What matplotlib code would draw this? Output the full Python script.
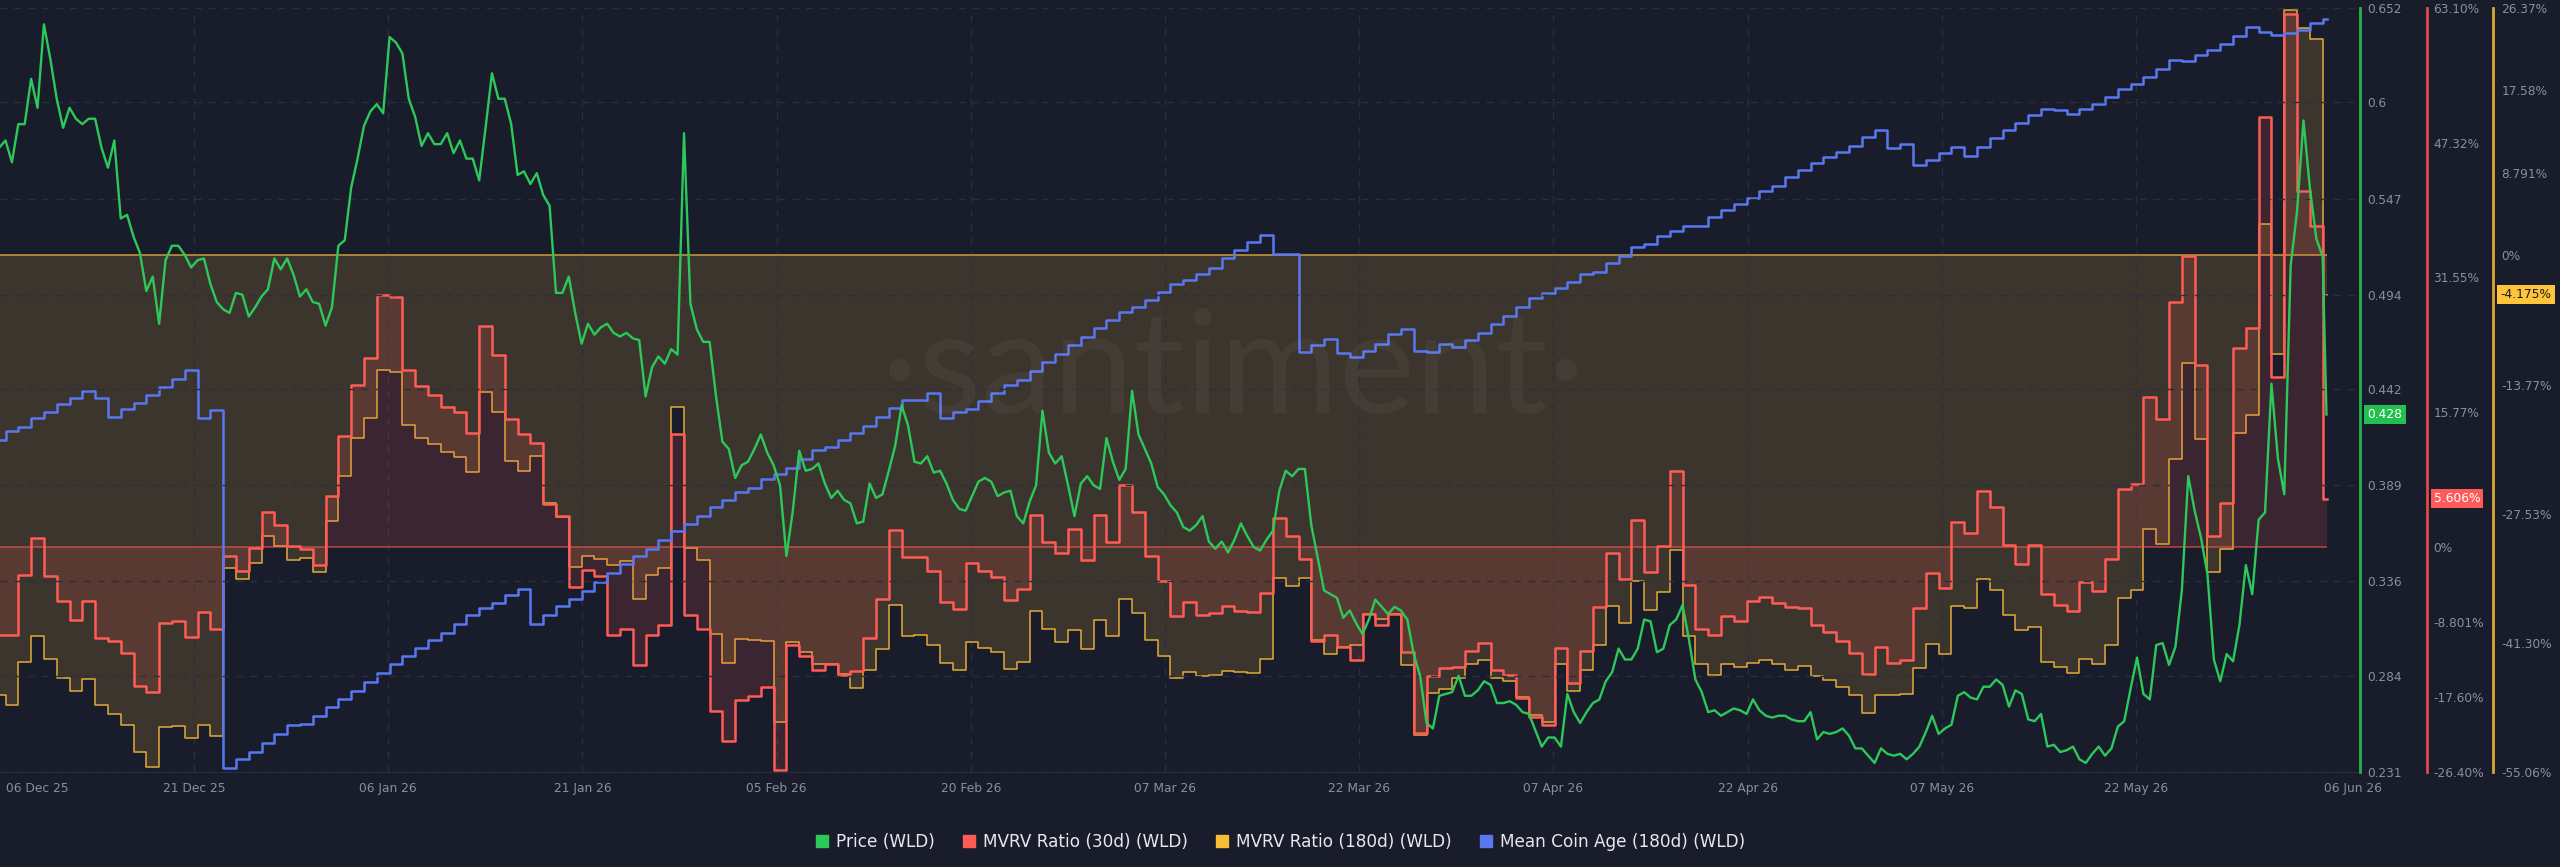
import numpy as np
import matplotlib
matplotlib.use("Agg")
import matplotlib.pyplot as plt
import matplotlib.transforms as mtransforms
from matplotlib.lines import Line2D

plt.rcParams['font.family'] = ['DejaVu Sans']

# ---------------- data ----------------
# day 0 = 06 Dec 2025; daily values start at day -1 (05 Dec 2025)
first_day = -1
end_day = 181.3  # last (partial) day ends here

mvrv30 = [
    -10.3, -10.3, -3.3, 1.0, -3.4, -6.4, -8.6, -6.4, -10.7, -11.0, -12.5, -16.3, -17.0, -9.0, -8.7, -10.6,
    -7.7, -9.6, -1.1, -2.9, -0.2, 4.1, 2.5, 0.1, -0.3, -2.2, 5.9, 13.0, 18.9, 22.1, 29.5, 29.3,
    20.7, 18.8, 17.8, 16.4, 15.8, 13.3, 25.8, 22.5, 15.0, 13.2, 12.1, 5.0, 3.6, -4.7, -2.7, -3.4,
    -10.3, -9.6, -13.9, -10.4, -9.2, 13.2, -8.0, -9.6, -19.2, -22.8, -18.0, -17.5, -16.4, -26.2, -11.5, -12.8,
    -14.5, -13.8, -15.0, -14.6, -10.7, -6.1, 1.9, -1.2, -1.2, -2.9, -6.5, -7.3, -1.9, -2.9, -3.6, -6.2,
    -5.0, 3.7, 0.6, -0.8, 2.1, -1.6, 3.7, 0.6, 7.2, 4.1, -1.1, -4.0, -8.1, -6.5, -8.0, -7.8,
    -6.9, -7.5, -7.7, -5.4, 3.4, 1.3, -1.4, -11.0, -10.3, -11.8, -13.3, -7.9, -9.2, -7.9, -12.3, -21.8,
    -15.1, -14.2, -14.1, -12.2, -11.3, -14.5, -15.0, -17.7, -19.9, -20.9, -11.9, -16.0, -12.2, -7.1, -0.8, -3.8,
    3.1, -3.0, 0.1, 8.9, -4.5, -9.6, -10.4, -8.1, -8.7, -6.4, -5.9, -6.6, -7.1, -7.2, -9.2, -10.0,
    -11.0, -12.5, -14.9, -11.7, -13.6, -13.3, -7.2, -3.1, -4.9, 2.9, 1.6, 6.5, 4.6, 0.2, -2.0, 0.2,
    -5.5, -6.8, -7.5, -4.1, -5.2, -1.4, 6.8, 7.3, 17.5, 14.9, 28.7, 34.0, 21.3, 1.3, 5.1, 23.3,
    25.6, 50.3, 19.9, 62.4, 41.7, 37.6, 5.606,
]

mvrv180 = [
    -46.9, -47.9, -43.3, -40.6, -43.0, -45.0, -46.4, -45.1, -47.9, -48.9, -50.0, -52.9, -54.5, -50.3, -50.2, -51.4,
    -50.1, -51.2, -33.3, -34.5, -32.8, -29.9, -31.0, -32.5, -32.3, -33.7, -28.3, -23.5, -19.5, -17.3, -12.2, -12.4,
    -18.1, -19.5, -20.1, -20.9, -21.5, -23.1, -14.6, -16.7, -21.9, -23.0, -21.4, -26.4, -27.9, -33.2, -32.0, -32.4,
    -33.0, -32.6, -36.6, -34.1, -33.3, -16.2, -31.2, -32.5, -40.3, -43.4, -40.9, -41.0, -41.1, -49.7, -41.2, -42.3,
    -43.5, -43.5, -44.6, -46.1, -44.2, -41.9, -37.3, -40.6, -40.5, -41.5, -43.4, -44.2, -41.2, -41.8, -42.3, -44.1,
    -43.3, -37.9, -39.8, -41.2, -39.9, -42.0, -38.9, -40.6, -36.6, -38.1, -41.0, -42.7, -45.0, -44.4, -44.8, -44.7,
    -44.3, -44.4, -44.5, -43.0, -34.4, -35.2, -34.4, -41.0, -42.5, -41.7, -41.5, -38.2, -38.8, -38.2, -43.7, -51.1,
    -46.6, -46.2, -45.0, -43.6, -43.1, -45.0, -45.4, -47.1, -49.0, -49.7, -43.6, -46.4, -44.2, -41.5, -37.4, -39.2,
    -34.7, -37.8, -35.9, -31.4, -40.6, -43.6, -44.7, -43.5, -43.9, -43.4, -43.1, -43.5, -44.2, -43.8, -44.8, -45.3,
    -46.0, -46.9, -48.8, -46.9, -46.9, -46.7, -44.0, -41.4, -42.5, -37.4, -37.6, -34.5, -35.7, -38.3, -39.9, -39.6,
    -43.3, -43.9, -44.5, -43.0, -43.5, -41.5, -36.5, -35.7, -29.2, -30.8, -21.7, -11.5, -19.6, -33.7, -31.3, -18.9,
    -17.0, 3.4, -10.5, 26.2, 24.2, 23.1, -4.175,
]

coin_age = [
    66.1, 66.8, 67.1, 67.8, 68.3, 68.9, 69.4, 69.9, 69.4, 67.9, 68.5, 69.0, 69.6, 70.2, 70.9, 71.6,
    67.8, 68.4, 40.3, 41.0, 41.6, 42.3, 43.0, 43.7, 43.8, 44.4, 45.1, 45.7, 46.4, 47.1, 47.8, 48.5,
    49.1, 49.7, 50.4, 50.9, 51.6, 52.3, 52.9, 53.3, 53.9, 54.4, 51.6, 52.3, 53.0, 53.6, 54.2, 54.9,
    55.6, 56.3, 57.0, 57.5, 58.2, 58.9, 59.5, 60.1, 60.8, 61.4, 62.0, 62.3, 63.0, 63.4, 63.9, 64.6,
    65.3, 65.5, 66.1, 66.6, 67.2, 67.9, 68.6, 69.2, 69.2, 69.8, 67.8, 68.3, 68.5, 69.1, 69.8, 70.4,
    70.8, 71.5, 72.2, 72.8, 73.5, 74.2, 74.9, 75.5, 76.1, 76.5, 77.1, 77.7, 78.3, 78.6, 79.1, 79.6,
    80.4, 81.0, 81.6, 82.2, 80.7, 80.7, 73.0, 73.5, 74.0, 72.9, 72.6, 73.1, 73.6, 74.4, 74.8, 73.1,
    73.0, 73.6, 73.4, 73.9, 74.5, 75.2, 75.8, 76.5, 77.2, 77.6, 78.0, 78.5, 79.1, 79.3, 80.0, 80.5,
    81.2, 81.5, 82.1, 82.5, 82.9, 82.9, 83.6, 84.1, 84.6, 85.1, 85.6, 86.0, 86.7, 87.3, 87.8, 88.3,
    88.7, 89.2, 89.9, 90.4, 89.0, 89.3, 87.7, 88.1, 88.6, 89.1, 88.4, 89.1, 89.8, 90.4, 91.0, 91.6,
    92.1, 92.0, 91.7, 92.1, 92.5, 93.0, 93.6, 94.0, 94.6, 95.2, 95.9, 95.8, 96.3, 96.7, 97.2, 97.8,
    98.5, 98.1, 97.9, 98.0, 98.3, 98.8, 99.1,
]

# price every 12 h, starting at day -0.5
price_start = -0.5
price = [
    0.575, 0.579, 0.567, 0.588, 0.588, 0.613, 0.597, 0.643, 0.624, 0.602, 0.586, 0.597, 0.591, 0.588, 0.591, 0.591,
    0.575, 0.564, 0.579, 0.536, 0.538, 0.526, 0.517, 0.496, 0.504, 0.478, 0.513, 0.521, 0.521, 0.516, 0.509, 0.513,
    0.514, 0.500, 0.490, 0.486, 0.484, 0.495, 0.494, 0.482, 0.487, 0.493, 0.497, 0.514, 0.508, 0.514, 0.505, 0.493,
    0.497, 0.490, 0.489, 0.477, 0.487, 0.521, 0.524, 0.553, 0.569, 0.587, 0.595, 0.599, 0.594, 0.636, 0.633,
    0.627, 0.602, 0.592, 0.576, 0.583, 0.577, 0.577, 0.583, 0.572, 0.579, 0.569, 0.569, 0.557, 0.586, 0.616, 0.602,
    0.602, 0.588, 0.560, 0.562, 0.555, 0.561, 0.549, 0.543, 0.495, 0.495, 0.504, 0.484, 0.467, 0.478, 0.472, 0.476,
    0.478, 0.473, 0.471, 0.473, 0.470, 0.469, 0.438, 0.454, 0.460, 0.456, 0.464, 0.461, 0.583, 0.489, 0.475, 0.468,
    0.468, 0.438, 0.413, 0.409, 0.393, 0.400, 0.402, 0.409, 0.417, 0.407, 0.400, 0.389, 0.350,
    0.375, 0.408, 0.397, 0.398, 0.401, 0.390, 0.382, 0.386, 0.381, 0.379, 0.368, 0.369, 0.390, 0.382, 0.384, 0.397,
    0.411, 0.433, 0.422, 0.402, 0.401, 0.405, 0.396, 0.397, 0.390, 0.381, 0.376, 0.375, 0.383, 0.391, 0.393, 0.391,
    0.383, 0.385, 0.386, 0.372, 0.368, 0.380, 0.389, 0.430, 0.407, 0.401, 0.405, 0.389, 0.372, 0.390, 0.394, 0.389,
    0.387, 0.415, 0.402, 0.392, 0.398, 0.441, 0.417, 0.409, 0.401, 0.388, 0.384, 0.378, 0.374,
    0.366, 0.364, 0.367, 0.372, 0.358, 0.354, 0.358, 0.352, 0.359, 0.368, 0.361, 0.355, 0.353, 0.359, 0.364, 0.386,
    0.397, 0.394, 0.398, 0.398, 0.367, 0.349, 0.331, 0.329, 0.327, 0.316, 0.320, 0.313, 0.307, 0.315, 0.326, 0.322,
    0.318, 0.322, 0.320, 0.315, 0.296, 0.284, 0.258, 0.255, 0.273, 0.274, 0.275, 0.284, 0.273, 0.273, 0.276, 0.281,
    0.279, 0.269, 0.269, 0.270, 0.268, 0.264, 0.263, 0.254, 0.245, 0.250, 0.250, 0.245,
    0.274, 0.264, 0.258, 0.264, 0.269, 0.271, 0.281, 0.286, 0.299, 0.293, 0.293, 0.299, 0.315, 0.314, 0.297, 0.299,
    0.312, 0.315, 0.323, 0.304, 0.282, 0.275, 0.264, 0.265, 0.262, 0.264, 0.266, 0.265, 0.263, 0.271, 0.265, 0.262,
    0.261, 0.262, 0.262, 0.260, 0.259, 0.259, 0.264, 0.249, 0.253, 0.252, 0.253, 0.255, 0.251, 0.244, 0.244, 0.240,
    0.236, 0.244, 0.241, 0.240, 0.241, 0.238, 0.241, 0.245, 0.253, 0.262, 0.252, 0.255, 0.257, 0.273,
    0.275, 0.272, 0.271, 0.278, 0.278, 0.282, 0.279, 0.267, 0.276, 0.274, 0.260, 0.259, 0.263, 0.245, 0.246, 0.242,
    0.243, 0.245, 0.238, 0.236, 0.241, 0.245, 0.240, 0.244, 0.256, 0.259, 0.277, 0.294, 0.274, 0.271, 0.301, 0.302,
    0.290, 0.300, 0.331, 0.394, 0.375, 0.360, 0.340, 0.293, 0.281, 0.296, 0.292, 0.312, 0.345, 0.329, 0.370, 0.374,
    0.445, 0.404, 0.384, 0.510, 0.540, 0.590, 0.553, 0.525, 0.515,
]
price_last = 0.428

price_ticks = [0.231, 0.284, 0.336, 0.389, 0.442, 0.494, 0.547, 0.6, 0.652]
price_labels = ["0.231", "0.284", "0.336", "0.389", "0.442", "0.494", "0.547", "0.6", "0.652"]
mvrv30_ticks = [-26.40, -17.60, -8.801, 0, 15.77, 31.55, 47.32, 63.10]
mvrv30_labels = ["-26.40%", "-17.60%", "-8.801%", "0%", "15.77%", "31.55%", "47.32%", "63.10%"]
mvrv180_ticks = [-55.06, -41.30, -27.53, -13.77, 0, 8.791, 17.58, 26.37]
mvrv180_labels = ["-55.06%", "-41.30%", "-27.53%", "-13.77%", "0%", "8.791%", "17.58%", "26.37%"]
date_labels = ["21 Dec 25", "06 Jan 26", "21 Jan 26", "05 Feb 26", "20 Feb 26", "07 Mar 26",
               "22 Mar 26", "07 Apr 26", "22 Apr 26", "07 May 26", "22 May 26"]
edge_labels = ["06 Dec 25", "06 Jun 26"]
series_names = ["Price (WLD)", "MVRV Ratio (30d) (WLD)", "MVRV Ratio (180d) (WLD)", "Mean Coin Age (180d) (WLD)"]

# ---------------- style ----------------
BG = '#191c2b'
GRID = '#2a2e3f'
TICK = '#8a8fa0'
GREEN = '#2cc95a'
GREEN_AX = '#22b34c'
RED = '#ff5c55'
RED_AX = '#e04a4a'
YEL = '#e2ab3a'
YEL_FILL = '#f7bd38'
YEL_AX = '#d9a533'
BLUE = '#5877f0'

W, H = 2560, 867
fig = plt.figure(figsize=(W / 100, H / 100), dpi=100)
fig.patch.set_facecolor(BG)

px_left, px_right, px_top, px_bot = 0, 2360, 8, 772
ax180 = fig.add_axes([px_left / W, 1 - px_bot / H, (px_right - px_left) / W, (px_bot - px_top) / H])
ax180.set_facecolor(BG)
ax30 = ax180.twinx()
axage = ax180.twinx()
axp = ax180.twinx()


def steps(vals):
    x = first_day + np.arange(len(vals), dtype=float)
    x = np.append(x, end_day)
    y = np.append(np.asarray(vals, float), vals[-1])
    return x, y


# MVRV 180d
x, y = steps(mvrv180)
ax180.fill_between(x, y, 0, step='post', color=YEL_FILL, alpha=0.16, linewidth=0)
ax180.hlines(0, x[0], x[-1], color=YEL, alpha=0.75, lw=1.3)
ax180.step(x, y, where='post', color=YEL, lw=1.1)

# MVRV 30d
x, y = steps(mvrv30)
ax30.fill_between(x, y, 0, step='post', color=RED, alpha=0.15, linewidth=0)
ax30.hlines(0, x[0], x[-1], color=RED, alpha=0.55, lw=1.3)
ax30.step(x, y, where='post', color=RED, lw=1.8)

# Mean coin age
x, y = steps(coin_age)
axage.step(x, y, where='post', color=BLUE, lw=1.8)

# Price
pt = price_start + 0.5 * np.arange(len(price))
pt = np.append(pt, end_day)
pv = np.append(price, price_last)
axp.plot(pt, pv, color=GREEN, lw=1.7)

# limits
xmin = (0 - 5.5) / 12.802
xmax = (px_right - 5.5) / 12.802
ax180.set_xlim(xmin, xmax)
ax180.set_ylim(mvrv180_ticks[0], mvrv180_ticks[-1])
ax30.set_ylim(mvrv30_ticks[0], mvrv30_ticks[-1])
axp.set_ylim(price_ticks[0], price_ticks[-1])
axage.set_ylim(40, 100)

for a in (ax180, ax30, axage, axp):
    for s in a.spines.values():
        s.set_visible(False)

# right axes
axp.spines['right'].set_visible(True)
axp.spines['right'].set_color(GREEN_AX)
axp.spines['right'].set_linewidth(2)
axp.set_yticks(price_ticks, price_labels)
axp.tick_params(axis='y', length=0, pad=5.5, labelsize=8.7, labelcolor=TICK)

ax30.spines['right'].set_visible(True)
ax30.spines['right'].set_position(('axes', 2427 / px_right))
ax30.spines['right'].set_color(RED_AX)
ax30.spines['right'].set_linewidth(2)
ax30.set_yticks(mvrv30_ticks, mvrv30_labels)
ax30.tick_params(axis='y', length=0, pad=4.5, labelsize=8.7, labelcolor=TICK)

ax180.yaxis.tick_right()
ax180.spines['right'].set_visible(True)
ax180.spines['right'].set_position(('axes', 2493 / px_right))
ax180.spines['right'].set_color(YEL_AX)
ax180.spines['right'].set_linewidth(2)
ax180.set_yticks(mvrv180_ticks, mvrv180_labels)
ax180.tick_params(axis='y', length=0, pad=6, labelsize=8.7, labelcolor=TICK)

axage.set_yticks([])

ax180.spines['bottom'].set_visible(True)
ax180.spines['bottom'].set_color(GRID)

# x ticks
tick_pos = [14.72 + 15.17 * k for k in range(len(date_labels))]
ax180.set_xticks(tick_pos, date_labels)
ax180.set_xticks([(37 - 5.5) / 12.802, (2353 - 5.5) / 12.802], edge_labels, minor=True)
ax180.tick_params(axis='x', which='both', length=0, pad=7, labelsize=8.8, labelcolor=TICK)
ax180.grid(axis='x', which='major', color=GRID, linestyle=(0, (5, 5)), lw=1)
axp.grid(axis='y', color=GRID, linestyle=(0, (5, 5)), lw=1)

# last-value boxes
def box(ax, xpx, val, text, fc, tc):
    tr = mtransforms.blended_transform_factory(ax.transAxes, ax.transData)
    ax.text(xpx / px_right, val, text, transform=tr, ha='center', va='center', fontsize=8.8,
            color=tc, clip_on=False, zorder=10,
            bbox=dict(boxstyle='square,pad=0.25', fc=fc, ec='none'))

box(axp, 2385, price_last, "0.428", '#21c04f', 'white')
box(ax30, 2457, mvrv30[-1], "5.606%", '#ff5a5a', 'white')
box(ax180, 2526, mvrv180[-1], "-4.175%", '#ffc53a', '#1a1a1a')

# watermark
fig.text(1233 / W, 1 - 372 / H, '·santiment·', ha='center', va='center', fontsize=104,
         color='white', alpha=0.045, family='Lato')

# legend
handles = [Line2D([], [], marker='s', ls='none', markersize=8.5, color=c)
           for c in (GREEN, RED, '#f5bd38', BLUE)]
fig.legend(handles, series_names, loc='center', bbox_to_anchor=(1280 / W, 1 - 842 / H), ncol=4,
           frameon=False, fontsize=12.2, labelcolor='#e6e8ee', handlelength=0.8,
           handletextpad=0.45, columnspacing=1.6)

fig.savefig('out.png', dpi=100, facecolor=BG)
